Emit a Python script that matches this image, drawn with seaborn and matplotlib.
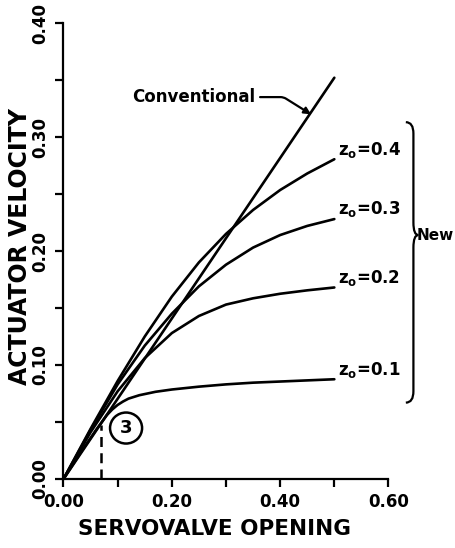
import numpy as np
import pandas as pd
import matplotlib
matplotlib.use("Agg")
import matplotlib.pyplot as plt
from matplotlib.path import Path
from matplotlib.patches import PathPatch, Ellipse
import seaborn as sns

# ---- data -------------------------------------------------------------
conv_x = [0.0, 0.50]
conv_y = [0.0, 0.352]

z04_x = [0.0, 0.05, 0.10, 0.15, 0.20, 0.25, 0.30, 0.35, 0.40, 0.45, 0.50]
z04_y = [0.0, 0.044, 0.086, 0.125, 0.160, 0.190, 0.215, 0.236, 0.2535, 0.268, 0.2805]

z03_x = [0.0, 0.05, 0.10, 0.15, 0.20, 0.25, 0.30, 0.35, 0.40, 0.45, 0.50]
z03_y = [0.0, 0.043, 0.083, 0.117, 0.145, 0.169, 0.188, 0.203, 0.214, 0.222, 0.228]

z02_x = [0.0, 0.05, 0.10, 0.15, 0.20, 0.25, 0.30, 0.35, 0.40, 0.45, 0.50]
z02_y = [0.0, 0.041, 0.077, 0.106, 0.128, 0.143, 0.153, 0.1585, 0.1625, 0.1655, 0.168]

z01_x = [0.0, 0.03, 0.06, 0.08, 0.09, 0.10, 0.11, 0.12, 0.14, 0.17, 0.20,
         0.25, 0.30, 0.35, 0.40, 0.45, 0.50]
z01_y = [0.0, 0.022, 0.043, 0.056, 0.061, 0.065, 0.068, 0.0705, 0.0735, 0.0765,
         0.0785, 0.081, 0.083, 0.0845, 0.0855, 0.0865, 0.0875]

curve_names = ["Conventional", "0.4", "0.3", "0.2", "0.1"]
curve_data = [(conv_x, conv_y), (z04_x, z04_y), (z03_x, z03_y),
              (z02_x, z02_y), (z01_x, z01_y)]

x_major = [0.0, 0.2, 0.4, 0.6]
x_minor = [0.1, 0.3, 0.5]
y_major = [0.0, 0.1, 0.2, 0.3, 0.4]
y_minor = [0.05, 0.15, 0.25, 0.35]

design_point_x = 0.07      # dashed marker below point "3"
design_point_y = 0.047

# ---- frame ------------------------------------------------------------
df = pd.concat(
    [pd.DataFrame({"opening": x, "velocity": y, "curve": n})
     for n, (x, y) in zip(curve_names, curve_data)],
    ignore_index=True)

sns.set_theme(style="ticks")
plt.rcParams["font.family"] = ["DejaVu Sans"]
plt.rcParams["mathtext.fontset"] = "dejavusans"
for key in ("text.color", "axes.labelcolor", "xtick.color", "ytick.color",
            "axes.edgecolor"):
    plt.rcParams[key] = "black"

fig = plt.figure(figsize=(4.56, 5.48), dpi=100)
ax = fig.add_axes([63.5 / 456, 69 / 548, 325 / 456, 456 / 548])

sns.lineplot(data=df, x="opening", y="velocity", hue="curve", units="curve",
             estimator=None, sort=False, legend=False,
             palette={n: "black" for n in curve_names}, lw=1.9, ax=ax)

ax.set_xlim(0, 0.6)
ax.set_ylim(0, 0.4)
sns.despine(ax=ax)
for s in ("left", "bottom"):
    ax.spines[s].set_linewidth(1.6)

ax.set_xticks(x_major)
ax.set_xticks(x_minor, minor=True)
ax.set_yticks(y_major)
ax.set_yticks(y_minor, minor=True)
ax.set_xticklabels([f"{v:.2f}" for v in x_major], fontsize=12, fontweight="bold")
ax.set_yticklabels([f"{v:.2f}" for v in y_major], fontsize=12, fontweight="bold",
                   rotation=90, va="center")
ax.tick_params(which="both", direction="out", length=6, width=1.6)
ax.tick_params(axis="x", pad=4)
ax.tick_params(axis="y", pad=4)

ax.set_xlabel("SERVOVALVE OPENING", fontsize=15.5, fontweight="bold", va="center")
ax.xaxis.set_label_coords(0.466, -0.110)
ax.set_ylabel("ACTUATOR VELOCITY", fontsize=17, fontweight="bold", va="center")
ax.yaxis.set_label_coords(-0.133, 0.509)

# ---- annotations -------------------------------------------------------
ax.annotate("Conventional", xy=(0.457, 0.7 * 0.457), xytext=(0.127, 0.335),
            fontsize=12, fontweight="bold", ha="left", va="center",
            annotation_clip=False,
            arrowprops=dict(arrowstyle="-|>", color="black", lw=1.6,
                            mutation_scale=10, shrinkA=1, shrinkB=0,
                            connectionstyle="angle,angleA=0,angleB=-32,rad=3"))

for name, (x, y) in zip(curve_names[1:], curve_data[1:]):
    ax.annotate(r"$\mathbf{z}_{\mathbf{o}}$" + f"={name}", xy=(x[-1], y[-1]),
                xytext=(3, 7), textcoords="offset points",
                fontsize=12, fontweight="bold", ha="left", va="center",
                annotation_clip=False)

# curly brace grouping the new-design curves
bx, tip, end = 0.646, 0.655, 0.632
ytop, ymid, ybot = 0.313, 0.214, 0.067
verts = [(end, ytop), (bx, ytop), (bx, ytop - 0.010),
         (bx, ymid + 0.011), (bx, ymid), (tip, ymid),
         (bx, ymid), (bx, ymid - 0.011),
         (bx, ybot + 0.010), (bx, ybot), (end, ybot)]
codes = [Path.MOVETO, Path.CURVE3, Path.CURVE3,
         Path.LINETO, Path.CURVE3, Path.CURVE3,
         Path.CURVE3, Path.CURVE3,
         Path.LINETO, Path.CURVE3, Path.CURVE3]
ax.add_patch(PathPatch(Path(verts, codes), fill=False, lw=1.6,
                       ec="black", clip_on=False))
ax.text(0.652, 0.214, "New", fontsize=11, fontweight="bold",
        ha="left", va="center", clip_on=False)

# design point "3"
ax.plot([design_point_x, design_point_x], [0, design_point_y], color="black",
        lw=1.8, ls=(0, (4, 2.5)), clip_on=False)
ax.add_patch(Ellipse((0.1155, 0.0447), width=32 / 541, height=31 / 1140,
                     fill=False, ec="black", lw=1.8))
ax.text(0.1155, 0.0447, "3", fontsize=13, fontweight="bold",
        ha="center", va="center")

fig.savefig("out.png", dpi=100, facecolor="white")
